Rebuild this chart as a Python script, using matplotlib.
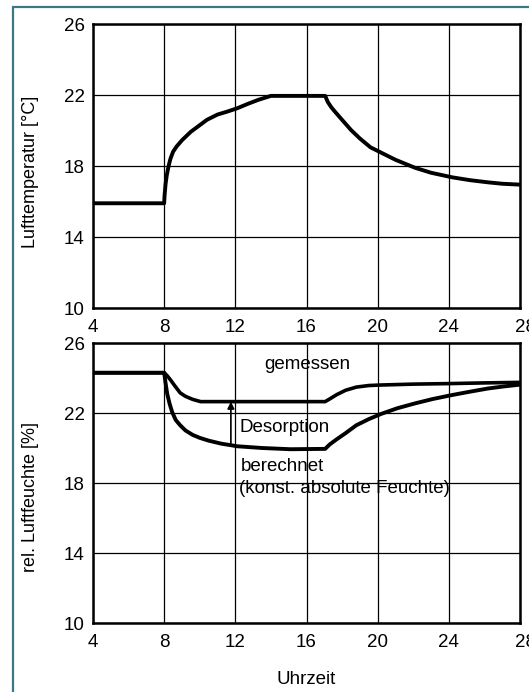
import matplotlib
matplotlib.use("Agg")
import matplotlib.pyplot as plt
import matplotlib.transforms as mtransforms
from matplotlib.patches import Rectangle

plt.rcParams['font.family'] = ['Liberation Sans', 'DejaVu Sans']

# Uhrzeit-Achse
x_ticks = [4, 8, 12, 16, 20, 24, 28]
x_labels = ['4', '8', '12', '16', '20', '24', '28']
y_ticks = [10, 14, 18, 22, 26]

# Lufttemperatur [°C]
t_temp = [4, 8, 8.02, 8.08, 8.15, 8.25, 8.35, 8.5, 8.7, 9.0, 9.5, 10.0, 10.4, 11.0,
          11.5, 12.1, 12.7, 13.3, 14.0, 17.05, 17.2, 17.4, 17.6, 18.0, 18.5, 19.0,
          19.6, 20.2, 21.0, 22.1, 23.0, 24.2, 25.2, 26.2, 27.0, 28]
temp = [15.9, 15.9, 16.3, 17.0, 17.5, 18.0, 18.4, 18.8, 19.1, 19.45, 19.93, 20.3, 20.6,
        20.9, 21.05, 21.25, 21.5, 21.73, 21.95, 21.95, 21.6, 21.3, 21.06, 20.6, 20.03,
        19.55, 19.05, 18.75, 18.35, 17.9, 17.62, 17.36, 17.2, 17.08, 17.0, 16.95]

# rel. Luftfeuchte, gemessen
t_mess = [4, 8, 8.15, 8.35, 8.6, 8.9, 9.2, 9.6, 10.05, 17.05, 17.3, 17.7, 18.2, 18.8,
          19.5, 20.2, 22, 24, 26, 28]
rf_mess = [24.3, 24.3, 24.15, 23.9, 23.55, 23.15, 22.95, 22.78, 22.65, 22.65, 22.8,
           23.05, 23.3, 23.48, 23.57, 23.6, 23.65, 23.68, 23.72, 23.75]

# rel. Luftfeuchte, berechnet (konst. absolute Feuchte)
t_ber = [4, 8, 8.08, 8.17, 8.3, 8.45, 8.65, 8.9, 9.2, 9.6, 10.0, 10.5, 11.2, 12.1,
         13.5, 15.1, 17.05, 17.3, 17.7, 18.2, 18.8, 19.5, 20.2, 21.1, 22.1, 23.1,
         24.2, 25.2, 26.2, 27.1, 28]
rf_ber = [24.3, 24.3, 23.7, 23.1, 22.55, 22.05, 21.6, 21.3, 21.0, 20.75, 20.58, 20.42,
          20.25, 20.1, 20.0, 19.93, 19.95, 20.2, 20.5, 20.85, 21.3, 21.65, 21.95, 22.27,
          22.55, 22.8, 23.03, 23.22, 23.4, 23.52, 23.62]

# Desorptionspfeil
arrow_t = 11.75
arrow_from = 20.2
arrow_to = 22.65

W, H = 529, 692
fig = plt.figure(figsize=(W / 100, H / 100), dpi=100)

ax1 = fig.add_axes([93 / W, 1 - 308 / H, 427 / W, 284 / H])
ax2 = fig.add_axes([93 / W, 1 - 623 / H, 427 / W, 280 / H])

for ax in (ax1, ax2):
    ax.set_xlim(4, 28)
    ax.set_ylim(10, 26)
    ax.set_xticks(x_ticks)
    ax.set_xticklabels(x_labels)
    ax.set_yticks(y_ticks)
    ax.grid(True, color='black', linewidth=0.9)
    ax.tick_params(length=0, labelsize=13.5, pad=6)
    ax.tick_params(axis='x', pad=8)
    for s in ax.spines.values():
        s.set_linewidth(1.8)
    # letzte Beschriftung am Bildrand angeschnitten
    lab = ax.get_xticklabels()[-1]
    lab.set_transform(lab.get_transform() +
                      mtransforms.ScaledTranslation(6 / 100, 0, fig.dpi_scale_trans))

ax1.plot(t_temp, temp, color='black', linewidth=2.8, solid_joinstyle='round')
ax1.set_ylabel('Lufttemperatur [°C]', fontsize=13)
ax1.yaxis.set_label_coords(-0.126, 0.48)

ax2.plot(t_mess, rf_mess, color='black', linewidth=2.6, solid_joinstyle='round')
ax2.plot(t_ber, rf_ber, color='black', linewidth=2.8, solid_joinstyle='round')
ax2.annotate('', xy=(arrow_t, arrow_to), xytext=(arrow_t, arrow_from),
             arrowprops=dict(arrowstyle='-|>', color='black', lw=1.2,
                             mutation_scale=10, shrinkA=0, shrinkB=0))
ax2.text(13.6, 24.75, 'gemessen', fontsize=13.5, va='center', ha='left')
ax2.text(12.25, 21.2, 'Desorption', fontsize=13.5, va='center', ha='left')
ax2.text(12.3, 18.95, 'berechnet', fontsize=13.5, va='center', ha='left')
ax2.text(12.2, 17.7, '(konst. absolute Feuchte)', fontsize=13.5, va='center', ha='left')
ax2.set_ylabel('rel. Luftfeuchte [%]', fontsize=13)
ax2.yaxis.set_label_coords(-0.126, 0.45)
ax2.set_xlabel('Uhrzeit', fontsize=13.5, labelpad=14)

# türkiser Rahmen
fig.patches.append(Rectangle((13 / W, -0.1), 1.2, 1.1 - 7 / H, transform=fig.transFigure,
                             fill=False, edgecolor='#3b7884', linewidth=1.6, clip_on=False))

fig.savefig('out.png', dpi=100)
